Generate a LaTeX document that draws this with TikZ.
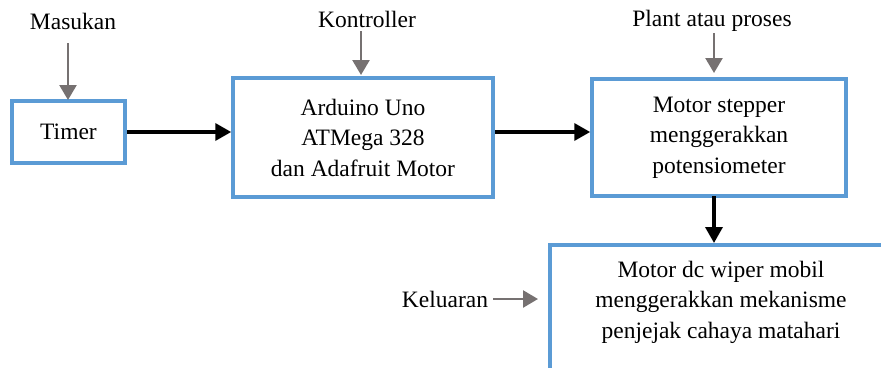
\documentclass[tikz,border=0pt]{standalone}
\usepackage{fontspec}
\setmainfont{LiberationSerif}[Extension=.ttf, UprightFont=*-Regular, BoldFont=*-Bold, ItalicFont=*-Italic]
\usetikzlibrary{arrows.meta}
\definecolor{boxblue}{RGB}{91,155,213}
\definecolor{feedgray}{RGB}{118,113,113}
\tikzset{
  block/.style={draw=boxblue, line width=3.5pt, rectangle, inner sep=0pt},
  lbl/.style={inner sep=0pt, align=center, font=\rmfamily\fontsize{23.5}{30.5}\selectfont},
  flow/.style={line width=3.5pt, -{Triangle[length=16pt,width=17pt]}},
  side/.style={draw=feedgray, line width=2.5pt, -{Triangle[length=15pt,width=17pt]}},
}
\begin{document}
\begin{tikzpicture}[x=1pt,y=-1pt]
  \clip (0,0) rectangle (881,367);
  % main blocks
  \node[block, minimum width=113, minimum height=62] (timer) at (68.5,132) {};
  \node[lbl] at (timer.center) {Timer};
  \node[block, minimum width=260, minimum height=119] (ctrl) at (363,137.5) {};
  \node[lbl] at (ctrl.center) {Arduino Uno\\ATMega 328\\dan Adafruit Motor};
  \node[block, minimum width=254, minimum height=117] (plant) at (719,137.5) {};
  \node[lbl] at (plant.center) {Motor stepper\\menggerakkan\\potensiometer};
  \node[block, anchor=north west, minimum width=380, minimum height=160] (out) at (548,243) {};
  \node[lbl] at (721,302) {Motor dc wiper mobil\\menggerakkan mekanisme\\penjejak cahaya matahari};
  % labels
  \node[lbl] (in) at (73,21) {Masukan};
  \node[lbl] (kon) at (367,19) {Kontroller};
  \node[lbl] (proc) at (712,21) {Plant atau proses};
  \node[lbl] (kel) at (445,299) {Keluaran};
  % signal flow
  \draw[flow] (timer.east) -- (ctrl.west |- timer.east);
  \draw[flow] (ctrl.east |- timer.east) -- (plant.west |- timer.east);
  \draw[flow] (714,196) -- (714,243);
  % side annotations
  \draw[side] (68,43) -- (68,100);
  \draw[side] (361,31) -- (361,75);
  \draw[side] (714,33) -- (714,73);
  \draw[side] (kel.east) ++(5,0) -- (538,299);
\end{tikzpicture}
\end{document}
